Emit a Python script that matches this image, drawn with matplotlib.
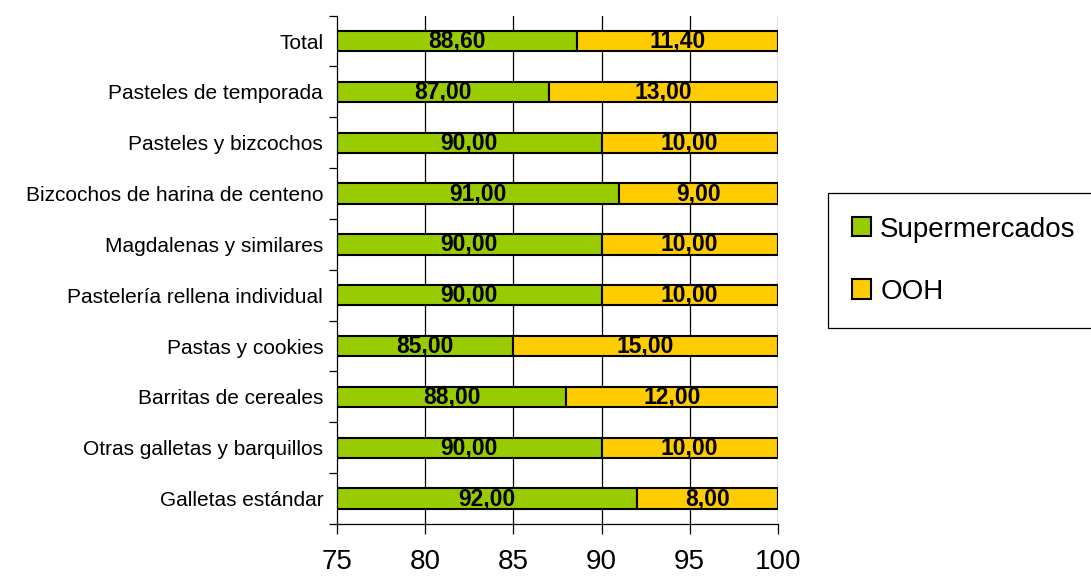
import matplotlib
matplotlib.use('Agg')
import matplotlib.pyplot as plt
import numpy as np

plt.rcParams['font.family'] = ['Liberation Sans', 'DejaVu Sans']

categories = ['Total', 'Pasteles de temporada', 'Pasteles y bizcochos',
              'Bizcochos de harina de centeno', 'Magdalenas y similares',
              'Pastelería rellena individual', 'Pastas y cookies',
              'Barritas de cereales', 'Otras galletas y barquillos',
              'Galletas estándar']
supermercados = [88.60, 87.00, 90.00, 91.00, 90.00, 90.00, 85.00, 88.00, 90.00, 92.00]
ooh = [11.40, 13.00, 10.00, 9.00, 10.00, 10.00, 15.00, 12.00, 10.00, 8.00]
xticks = [75, 80, 85, 90, 95, 100]

green = '#99CC00'
orange = '#FFCC00'

fig = plt.figure(figsize=(10.91, 5.79), dpi=100)
ax = fig.add_axes([0.309, 0.095, 0.404, 0.878])

y = np.arange(len(categories))
xmin = 75
for v in xticks[1:]:
    ax.axvline(v, color='black', lw=0.9, zorder=0)

b1 = ax.barh(y, supermercados, height=0.4, color=green, edgecolor='black', lw=1.5,
             label='Supermercados', zorder=2)
b2 = ax.barh(y, ooh, left=supermercados, height=0.4, color=orange, edgecolor='black',
             lw=1.5, label='OOH', zorder=2)

for i in range(len(categories)):
    s = supermercados[i]
    o = ooh[i]
    ax.text((xmin + s) / 2, y[i], ('%.2f' % s).replace('.', ','), ha='center', va='center',
            fontsize=16.5, fontweight='bold', zorder=3)
    ax.text(s + o / 2, y[i], ('%.2f' % o).replace('.', ','), ha='center', va='center',
            fontsize=16.5, fontweight='bold', zorder=3)

ax.set_xlim(75, 100)
ax.set_ylim(len(categories) - 0.5, -0.5)
ax.set_xticks(xticks)
ax.set_xticklabels([str(t) for t in xticks], fontsize=20)
ax.set_yticks(y)
ax.set_yticklabels(categories, fontsize=15)
ax.set_yticks(np.arange(-0.5, len(categories)), minor=True)
ax.tick_params(axis='y', which='major', length=0, pad=10)
ax.tick_params(axis='y', which='minor', length=6, direction='out', width=0.9)
ax.tick_params(axis='x', length=7, width=0.9, pad=11)
for side in ['top', 'right']:
    ax.spines[side].set_visible(False)
ax.spines['left'].set_linewidth(0.9)
ax.spines['bottom'].set_linewidth(0.9)

leg = fig.legend(handles=[b1, b2], loc='upper left',
                 bbox_to_anchor=(828 / 1091, 1 - 193 / 579),
                 fontsize=20, frameon=True, fancybox=False, framealpha=1,
                 edgecolor='black', handlelength=0.68, handleheight=0.68,
                 handletextpad=0.35, labelspacing=1.3, borderpad=0.85, borderaxespad=0)
leg.get_frame().set_linewidth(0.9)

fig.savefig('out.png', dpi=100)
